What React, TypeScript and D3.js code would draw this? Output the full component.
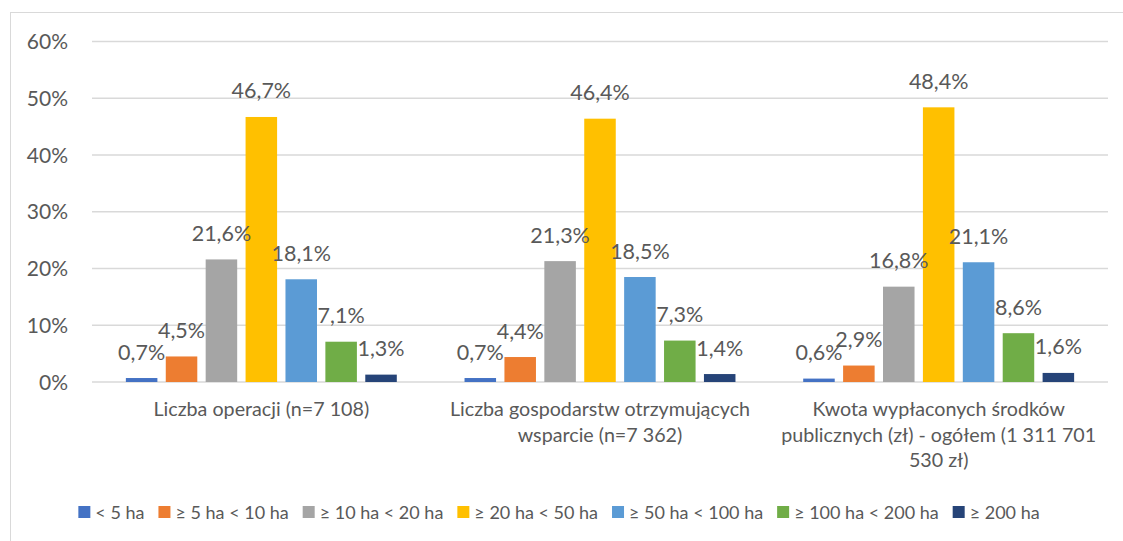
import React, { useEffect, useRef } from 'react';
import * as d3 from 'd3';

// categories (line breaks = how the original wraps them)
const categories = [
  'Liczba operacji (n=7 108)',
  'Liczba gospodarstw otrzymujących\nwsparcie (n=7 362)',
  'Kwota wypłaconych środków\npublicznych (zł) - ogółem (1 311 701\n530 zł)',
];

const seriesNames = [
  '< 5 ha',
  '≥ 5 ha < 10 ha',
  '≥ 10 ha < 20 ha',
  '≥ 20 ha < 50 ha',
  '≥ 50 ha < 100 ha',
  '≥ 100 ha < 200 ha',
  '≥ 200 ha',
];

const seriesColors = ['#4472C4', '#ED7D31', '#A5A5A5', '#FFC000', '#5B9BD5', '#70AD47', '#264478'];

// one row per series, one value per category (%)
const seriesValues = [
  [0.7, 0.7, 0.6],
  [4.5, 4.4, 2.9],
  [21.6, 21.3, 16.8],
  [46.7, 46.4, 48.4],
  [18.1, 18.5, 21.1],
  [7.1, 7.3, 8.6],
  [1.3, 1.4, 1.6],
];

const yTicks = [0, 10, 20, 30, 40, 50, 60];

const W = 1123;
const H = 541;
const FONT = 'Lato, "Open Sans", sans-serif';
const TEXT = '#595959';

const fmt = (v: number) => v.toFixed(1).replace('.', ',') + '%';

export default function App() {
  const svgRef = useRef<SVGSVGElement>(null);

  useEffect(() => {
    const svg = d3.select(svgRef.current);
    svg.selectAll('*').remove();

    const left = 92, right = 1108, top = 41.5, bottom = 382;

    const y = d3.scaleLinear().domain([0, 60]).range([bottom, top]);
    const x0 = d3.scaleBand().domain(categories).range([left, right]).paddingInner(0.2).paddingOuter(0.1);
    const x1 = d3.scaleBand().domain(seriesNames).range([0, x0.bandwidth()]).paddingInner(0.21);

    // frame (cut off on the right and bottom like the original)
    svg.append('rect')
      .attr('x', 10.5).attr('y', 12.5)
      .attr('width', W + 10).attr('height', H + 10)
      .attr('fill', 'white')
      .attr('stroke', '#d9d9d9')
      .attr('stroke-width', 1);

    // gridlines
    svg.append('g')
      .selectAll('line')
      .data(yTicks)
      .enter()
      .append('line')
      .attr('x1', left).attr('x2', right)
      .attr('y1', d => y(d)).attr('y2', d => y(d))
      .attr('stroke', '#d9d9d9')
      .attr('stroke-width', 1.5);

    // y tick labels
    svg.append('g')
      .selectAll('text')
      .data(yTicks)
      .enter()
      .append('text')
      .attr('x', 68)
      .attr('y', d => y(d) + 7.5)
      .attr('text-anchor', 'end')
      .style('font-family', FONT)
      .style('font-size', '21px')
      .attr('fill', TEXT)
      .text(d => d + '%');

    // bars + labels
    const rows: { cat: string; name: string; color: string; v: number }[] = [];
    seriesNames.forEach((name, si) => {
      categories.forEach((cat, ci) => {
        rows.push({ cat, name, color: seriesColors[si], v: seriesValues[si][ci] });
      });
    });

    svg.append('g')
      .selectAll('rect')
      .data(rows)
      .enter()
      .append('rect')
      .attr('x', d => x0(d.cat)! + x1(d.name)!)
      .attr('y', d => y(d.v))
      .attr('width', x1.bandwidth())
      .attr('height', d => y(0) - y(d.v))
      .attr('fill', d => d.color);

    svg.append('g')
      .selectAll('text')
      .data(rows)
      .enter()
      .append('text')
      .attr('x', d => x0(d.cat)! + x1(d.name)! + x1.bandwidth() / 2)
      .attr('y', d => y(d.v) - 18.5)
      .attr('text-anchor', 'middle')
      .style('font-family', FONT)
      .style('font-size', '21.5px')
      .attr('fill', TEXT)
      .text(d => fmt(d.v));

    // category labels
    const catG = svg.append('g')
      .selectAll('text')
      .data(categories)
      .enter()
      .append('text')
      .attr('text-anchor', 'middle')
      .style('font-family', FONT)
      .style('font-size', '19.7px')
      .attr('fill', TEXT);

    catG.each(function (d) {
      const t = d3.select(this);
      d.split('\n').forEach((line, i) => {
        t.append('tspan')
          .attr('x', x0(d)! + x0.bandwidth() / 2)
          .attr('y', 416 + i * 25.5)
          .text(line);
      });
    });

    // legend, centred
    const legend = svg.append('g');
    const items = legend.selectAll('g')
      .data(seriesNames)
      .enter()
      .append('g');
    items.append('rect')
      .attr('y', 506)
      .attr('width', 12).attr('height', 12)
      .attr('fill', (d, i) => seriesColors[i]);
    const labels = items.append('text')
      .attr('x', 17)
      .attr('y', 518.5)
      .style('font-family', FONT)
      .style('font-size', '18px')
      .attr('fill', TEXT)
      .text(d => d);

    const widths: number[] = [];
    labels.each(function () { widths.push((this as SVGTextElement).getComputedTextLength()); });
    const gap = 14;
    const total = d3.sum(widths, w => 17 + w) + gap * (widths.length - 1);
    let cx = 559 - total / 2;
    items.each(function (d, i) {
      d3.select(this).attr('transform', `translate(${cx},0)`);
      cx += 17 + widths[i] + gap;
    });
  }, []);

  return (
    <svg
      ref={svgRef}
      width={W}
      height={H}
      style={{ position: 'fixed', left: 0, top: 0, background: 'white' }}
    />
  );
}
